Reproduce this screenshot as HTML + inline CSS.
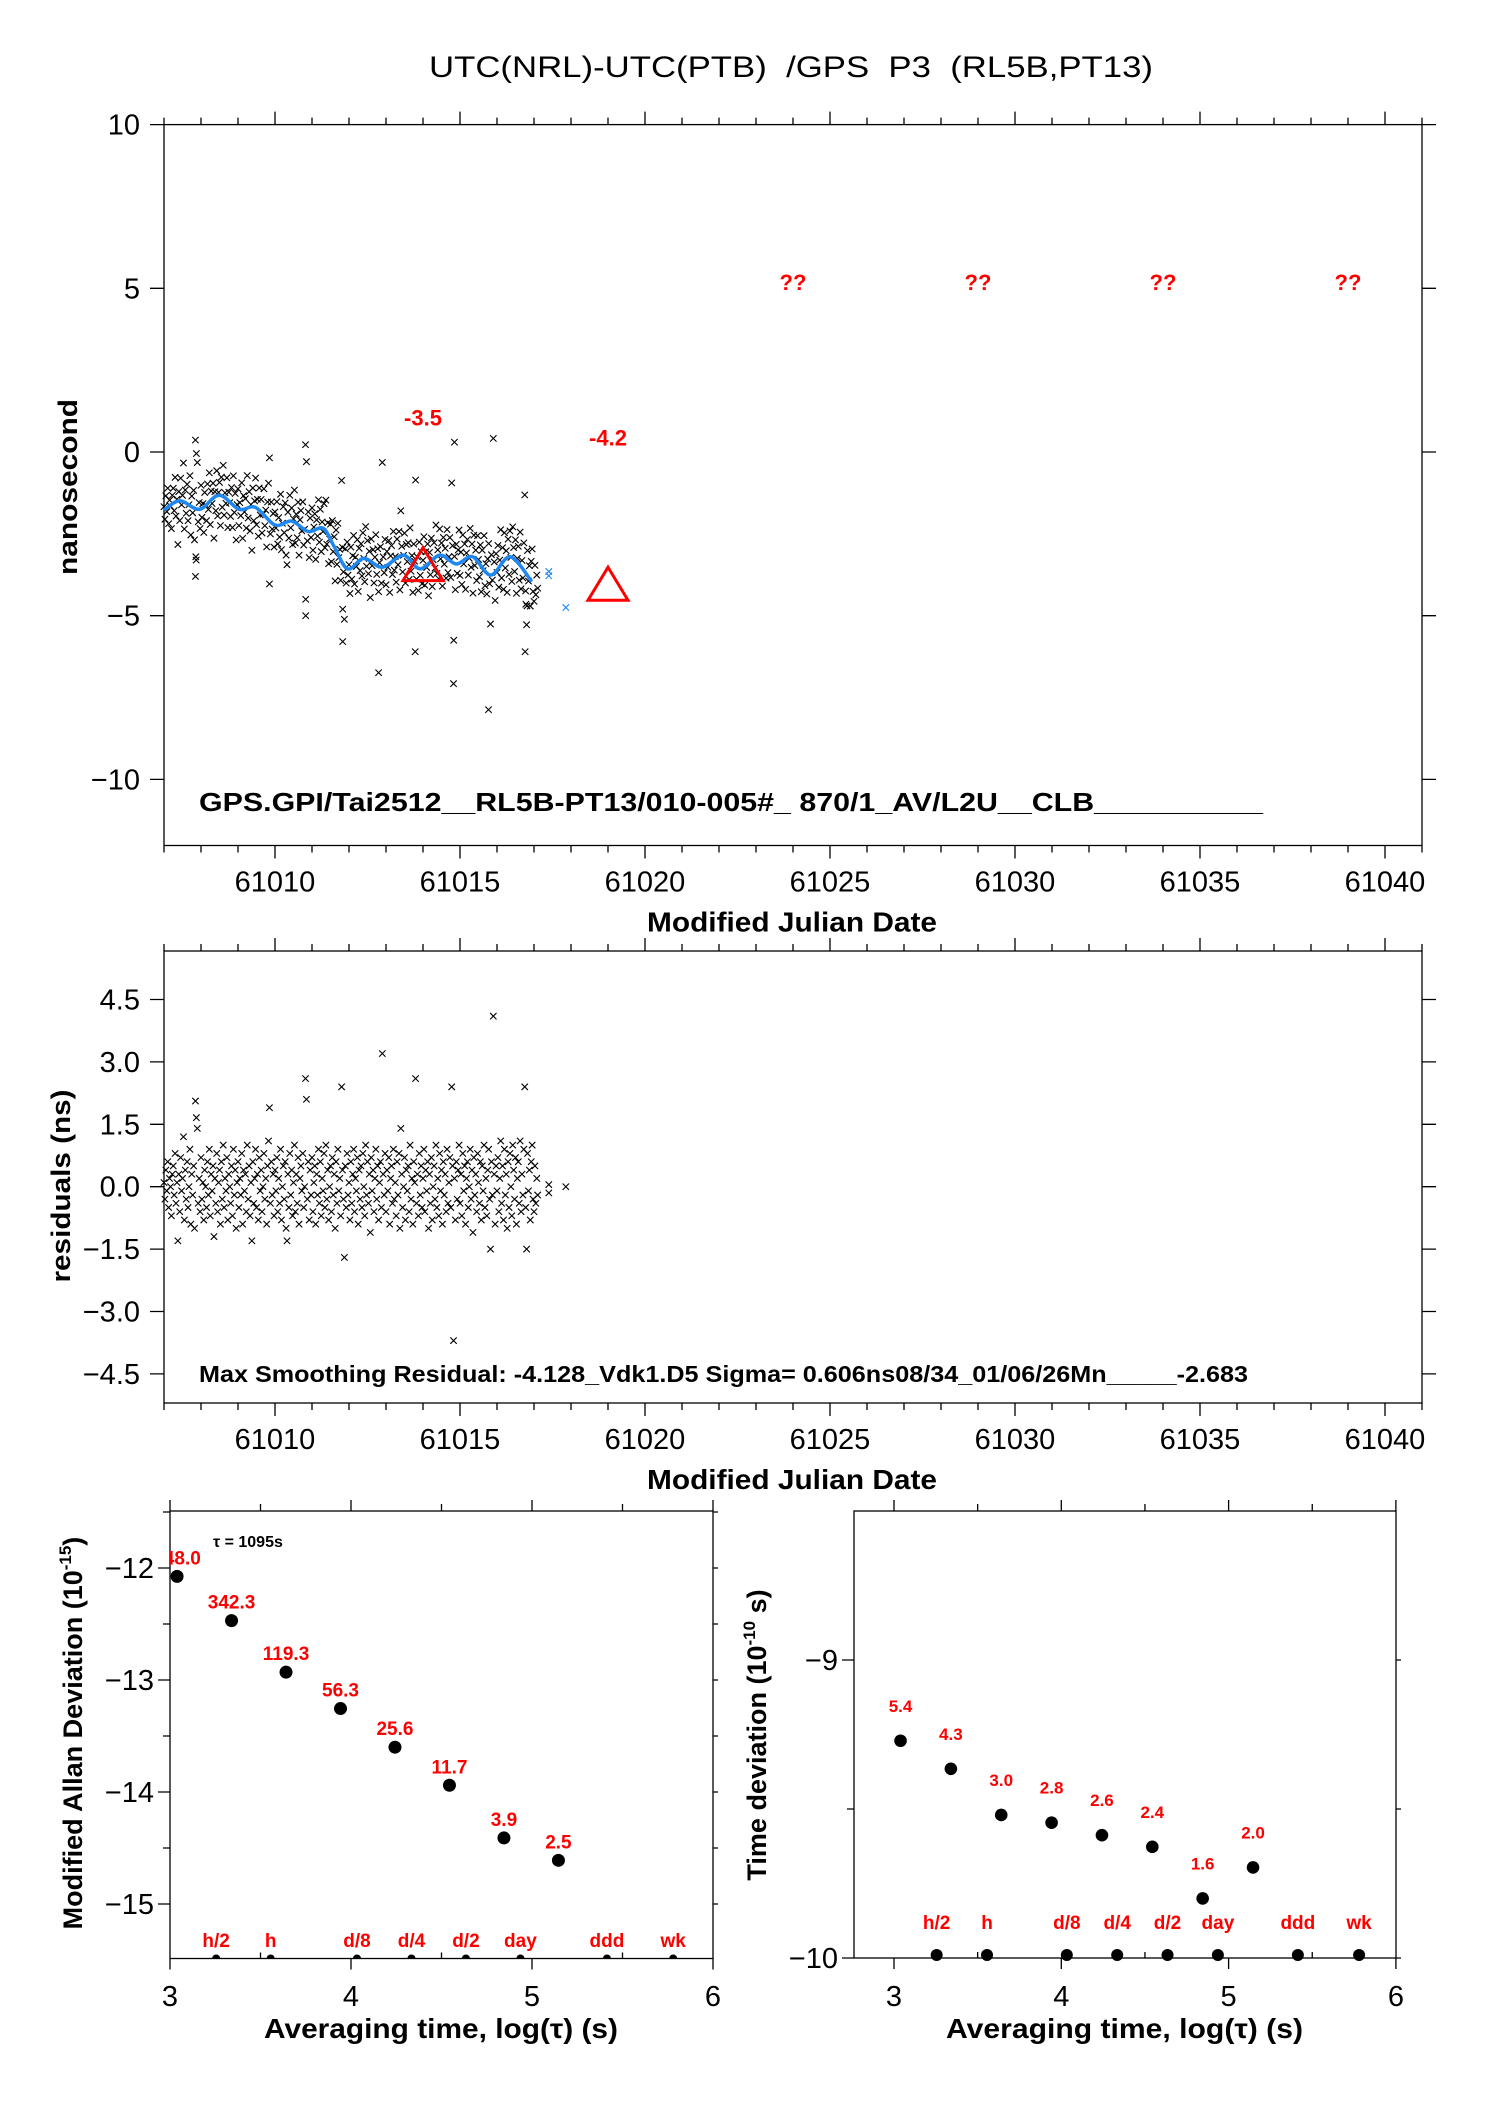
<!DOCTYPE html>
<html><head><meta charset="utf-8"><style>
html,body{margin:0;padding:0;background:#fff;}
svg{display:block;font-family:"Liberation Sans",sans-serif;}
</style></head><body>
<svg id="fig" width="1488" height="2105" viewBox="0 0 1488 2105" xmlns="http://www.w3.org/2000/svg">
<defs>
<clipPath id="clipA"><rect x="170" y="1511" width="543" height="448"/></clipPath>
</defs>
<rect x="0" y="0" width="1488" height="2105" fill="#fff"/>
<text x="429" y="77" font-size="30" textLength="724" lengthAdjust="spacingAndGlyphs" xml:space="preserve">UTC(NRL)-UTC(PTB)  /GPS  P3  (RL5B,PT13)</text>
<g id="gTop"></g>
<g id="gRes"></g>
<g id="gA"></g>
<g id="gD"></g>
</svg>
<script>
// ---- data ----
const resStart = 61007.0;
const resStep = 0.025;
const residuals = [
0.1,-0.3,0.4,-0.1,0.6,-0.5,0.2,0.0,-0.7,0.3,0.5,-0.2,0.8,-0.4,0.1,-1.3,0.3,-0.6,0.7,-0.1,
0.2,1.2,-0.8,0.4,-0.3,0.6,-0.5,0.0,0.9,-0.9,0.3,-0.2,0.5,-1.0,2.06,1.66,1.4,-0.4,0.2,-0.6,
0.7,-0.3,0.1,-0.8,0.4,0.0,-0.5,0.6,-0.2,0.9,-0.7,0.3,-0.1,0.5,-1.2,0.2,-0.4,0.8,-0.6,0.1,
0.4,-0.9,0.6,-0.3,1.0,-0.5,0.2,-0.1,0.7,-0.8,0.3,0.0,-0.4,0.5,-0.7,0.9,-0.2,0.4,-1.0,0.1,
0.6,-0.5,0.2,-0.2,0.8,-0.9,0.4,-0.1,0.3,-0.6,1.0,-0.3,0.5,-0.7,0.1,-1.3,0.6,-0.4,0.2,0.9,
-0.5,0.3,-0.8,0.7,-0.1,0.4,-0.6,0.0,0.8,-0.3,0.2,-0.9,0.5,1.1,1.9,-0.4,0.6,-0.2,0.3,-0.7,
0.4,-0.1,0.7,-0.6,0.2,-0.4,0.9,-0.8,0.0,0.5,-0.3,0.6,-1.0,-1.3,0.3,-0.5,0.8,-0.2,0.4,-0.7,
0.1,1.0,-0.6,0.3,-0.4,0.7,-0.9,0.2,0.5,-0.1,0.8,-0.5,0.0,2.6,2.1,-0.3,0.6,-0.8,0.4,-0.2,
0.7,-0.6,0.1,0.5,-0.9,0.3,-0.2,0.9,-0.4,0.6,-0.7,0.2,-0.1,0.8,-0.5,1.0,-0.3,0.4,-0.8,0.0,
0.5,-0.6,0.7,-0.2,0.3,-1.0,0.6,-0.4,0.9,-0.1,0.2,-0.7,2.4,0.4,-0.3,-1.7,0.5,-0.5,0.8,-0.2,
0.1,-0.8,0.6,-0.4,0.3,0.9,-0.6,0.2,-0.1,0.7,-0.9,0.4,-0.3,0.5,-0.5,0.8,0.0,-0.7,1.0,-0.2,
0.6,-0.4,0.3,-1.1,0.7,-0.1,0.4,-0.6,0.2,0.9,-0.3,0.5,-0.8,0.1,0.6,-0.5,3.2,0.3,-0.2,0.8,
-0.6,0.4,-0.1,0.7,-0.9,0.2,0.5,-0.4,0.9,-0.3,0.1,-0.7,0.6,-0.2,0.8,-1.0,1.4,0.3,-0.5,0.0,
0.7,-0.8,0.4,-0.1,0.5,-0.6,1.0,-0.3,0.2,-0.9,0.6,0.1,2.6,-0.4,0.3,-0.7,0.8,-0.2,0.5,-0.5,
0.2,0.9,-0.6,0.4,-0.1,0.6,-1.0,0.3,-0.4,0.7,-0.8,0.0,0.5,-0.3,1.0,-0.5,0.2,-0.7,0.8,-0.1,
0.4,-0.9,0.6,-0.2,0.3,-0.6,0.9,-0.4,0.1,0.7,-0.5,2.4,0.5,-3.7,0.2,-0.8,0.6,-0.3,0.4,1.0,
-0.4,0.3,-0.7,0.8,-0.1,0.5,-0.9,0.2,0.6,-0.5,0.0,0.9,-0.3,0.4,-1.1,0.7,-0.2,0.3,-0.6,0.8,
0.1,-0.4,0.6,-0.8,0.5,-0.1,1.0,-0.5,0.2,-0.7,0.4,0.9,-0.3,-1.5,0.6,-0.2,4.1,0.3,-0.9,0.5,
-0.1,0.7,-0.6,0.2,1.1,-0.4,0.5,-0.8,0.9,-0.2,0.3,-1.0,0.6,-0.5,0.8,0.0,-0.7,1.0,0.4,-0.3,
0.7,-0.9,0.2,0.6,-0.4,1.1,-0.6,0.3,-0.2,0.9,2.4,-0.5,-1.5,0.8,-0.1,0.4,-0.8,0.6,1.0,-0.3,
-0.6,0.5,-0.4,0.2,-0.2];
const smoothT = [61007.0,61007.43,61007.96,61008.49,61009.03,61009.47,61010.0,61010.45,61010.9,61011.3,61011.6,61011.96,61012.4,61012.9,61013.47,61013.92,61014.45,61014.9,61015.34,61015.83,61016.36,61016.94];
const smoothV = [-1.77,-1.49,-1.75,-1.32,-1.75,-1.69,-2.23,-2.11,-2.43,-2.33,-2.89,-3.57,-3.25,-3.52,-3.15,-3.57,-3.15,-3.42,-3.2,-3.76,-3.2,-3.96];
const topExtraT = [61014.85,61015.77,61012.8,61013.79,61016.76,61011.83,61014.83,61009.85,61010.83,61010.83,61007.85,61007.87,61007.86,61011.83,61016.81,61016.78];
const topExtraV = [0.3,-7.87,-6.74,-6.1,-6.1,-5.79,-5.75,-4.03,-5.0,-4.5,-3.8,-3.3,-3.2,-4.8,-4.7,-4.65];
const blueT = [61017.4,61017.4,61017.86];
const blueV = [-3.78,-3.65,-4.75];
const resExtraT = [61017.4,61017.4,61017.86];
const resExtraV = [0.05,-0.15,0.0];
const triT = [61014,61019];
const triV = [-3.5,-4.1];
const triLabels = ["-3.5","-4.2"];
const triLabelV = [1.05,0.45];
const qT = [61024,61029,61034,61039];
const logTau = [3.039,3.34,3.641,3.942,4.243,4.544,4.845,5.146];
const adev = [-12.075,-12.47,-12.93,-13.255,-13.6,-13.94,-14.41,-14.61];
const adevLabels = ["748.0","342.3","119.3","56.3","25.6","11.7","3.9","2.5"];
const tdev = [-9.271,-9.365,-9.52,-9.546,-9.588,-9.627,-9.8,-9.696];
const tdevLabels = ["5.4","4.3","3.0","2.8","2.6","2.4","1.6","2.0"];
const markT = [3.255,3.556,4.033,4.334,4.635,4.936,5.414,5.78];
const markLabels = ["h/2","h","d/8","d/4","d/2","day","ddd","wk"];
const mjdTicks = [61010,61015,61020,61025,61030,61035,61040];
const topYTicks = [10,5,0,-5,-10];
const resYTicks = [4.5,3.0,1.5,0.0,-1.5,-3.0,-4.5];
const logTicks = [3,4,5,6];
const adevYTicks = [-12,-13,-14,-15];
const tdevYTicks = [-9,-10];

// ---- scales ----
const xT = m => 164 + (m - 61007) * 37.0;
const yT = v => 452 - v * 32.74;
const yR = v => 1186.7 - v * 41.6;
const xA = l => 170 + (l - 3) * 181;
const yA = v => 1568 - (v + 12) * 112;
const xD = l => 894 + (l - 3) * 167.3;
const yD = v => 1958 - (v + 10) * 298;
const NS = "http://www.w3.org/2000/svg";
function mk(parent, tag, attrs, txt) {
  const e = document.createElementNS(NS, tag);
  for (const k in attrs) e.setAttribute(k, attrs[k]);
  if (txt !== undefined) e.textContent = txt;
  parent.appendChild(e);
  return e;
}
function fmt(v){ return (v<0?"\u2212":"") + Math.abs(v).toFixed(arguments[1]||0); }
function interp(t){
  if (t <= smoothT[0]) return smoothV[0];
  for (let i=1;i<smoothT.length;i++){
    if (t <= smoothT[i]) { const f=(t-smoothT[i-1])/(smoothT[i]-smoothT[i-1]); return smoothV[i-1]+f*(smoothV[i]-smoothV[i-1]); }
  }
  return smoothV[smoothV.length-1];
}
function cross(g, x, y, color, name){
  const p = mk(g, "path", {d:`M${x-3.2},${y-3.2}L${x+3.2},${y+3.2}M${x-3.2},${y+3.2}L${x+3.2},${y-3.2}`, stroke:color, "stroke-width":1.1, fill:"none"});
  
  
}
function mjdFrame(g, top, bottom, name){
  const r = mk(g, "rect", {x:164, y:top, width:1258, height:bottom-top, fill:"none", stroke:"#000", "stroke-width":1.3});
  
  
  for (let m=61007; m<=61041; m++){
    const major = (m % 5 === 0);
    const L = major ? 13 : 7;
    const x = xT(m);
    const tk = mk(g, "path", {d:`M${x},${bottom}L${x},${bottom+L}M${x},${top}L${x},${top-L}`, stroke:"#000", "stroke-width":1.3});
    
    
  }
  mjdTicks.forEach(m => {
    const t = mk(g, "text", {x:xT(m), y:bottom+46, "font-size":29, "text-anchor":"middle"}, String(m));
    
    
  });
  const xl = mk(g, "text", {x:647, y:bottom+86, "font-size":28, "font-weight":"bold", textLength:290, lengthAdjust:"spacingAndGlyphs"}, "Modified Julian Date");
  
  
}

// ---- top panel ----
const gT = document.getElementById("gTop");
mjdFrame(gT, 124.6, 845.5, "plot-frame");
topYTicks.forEach(v => {
  const y = yT(v);
  const tk = mk(gT, "path", {d:`M150,${y}L164,${y}M1422,${y}L1436,${y}`, stroke:"#000", "stroke-width":1.3});
  
  
  const t = mk(gT, "text", {x:140, y:y+10, "font-size":29, "text-anchor":"end"}, fmt(v));
  
  
});
const yl = mk(gT, "text", {x:0, y:0, "font-size":27, "font-weight":"bold", "text-anchor":"middle", transform:"translate(77,487) rotate(-90)", textLength:176, lengthAdjust:"spacingAndGlyphs"}, "nanosecond");


residuals.forEach((r,i) => {
  const t = resStart + i*resStep;
  cross(gT, xT(t), yT(interp(t)+r), "#000", "data-point");
});
topExtraT.forEach((t,i) => cross(gT, xT(t), yT(topExtraV[i]), "#000", "outlier-point"));
blueT.forEach((t,i) => cross(gT, xT(t), yT(blueV[i]), "#1e88f0", "extrapolated-point"));
let d = "";
for (let i=0;i<smoothT.length;i++){
  const p0 = [xT(smoothT[Math.max(0,i-1)]), yT(smoothV[Math.max(0,i-1)])];
  const p1 = [xT(smoothT[i]), yT(smoothV[i])];
  const p2 = [xT(smoothT[Math.min(smoothT.length-1,i+1)]), yT(smoothV[Math.min(smoothT.length-1,i+1)])];
  const p3 = [xT(smoothT[Math.min(smoothT.length-1,i+2)]), yT(smoothV[Math.min(smoothT.length-1,i+2)])];
  if (i===0) d += `M${p1[0]},${p1[1]}`;
  if (i < smoothT.length-1) {
    d += `C${p1[0]+(p2[0]-p0[0])/6},${p1[1]+(p2[1]-p0[1])/6} ${p2[0]-(p3[0]-p1[0])/6},${p2[1]-(p3[1]-p1[1])/6} ${p2[0]},${p2[1]}`;
  }
}
const sm = mk(gT, "path", {d:d, stroke:"#1e88f0", "stroke-width":3.5, fill:"none"});


triT.forEach((t,i) => {
  const x = xT(t), y = yT(triV[i]);
  const tr = mk(gT, "path", {d:`M${x},${y-19}L${x+20},${y+14}L${x-20},${y+14}Z`, stroke:"#ff0000", "stroke-width":3, fill:"none"});
  
  
  const lb = mk(gT, "text", {x:x, y:yT(triLabelV[i])+8, "font-size":22, "font-weight":"bold", fill:"#ff0000", "text-anchor":"middle"}, triLabels[i]);
  
  
});
qT.forEach(t => {
  const q = mk(gT, "text", {x:xT(t), y:yT(5.2)+8, "font-size":22, "font-weight":"bold", fill:"#ff0000", "text-anchor":"middle"}, "??");
  
  
});
const info = mk(gT, "text", {x:199, y:811, "font-size":26, "font-weight":"bold", textLength:1064, lengthAdjust:"spacingAndGlyphs", "xml:space":"preserve"}, "GPS.GPI/Tai2512__RL5B-PT13/010-005#_  870/1_AV/L2U__CLB__________");



// ---- residual panel ----
const gR = document.getElementById("gRes");
mjdFrame(gR, 951, 1403, "residual-frame");
resYTicks.forEach(v => {
  const y = yR(v);
  const tk = mk(gR, "path", {d:`M150,${y}L164,${y}M1422,${y}L1436,${y}`, stroke:"#000", "stroke-width":1.3});
  
  
  const t = mk(gR, "text", {x:140, y:y+10, "font-size":29, "text-anchor":"end"}, fmt(v,1));
  
  
});
const yl2 = mk(gR, "text", {x:0, y:0, "font-size":27, "font-weight":"bold", "text-anchor":"middle", transform:"translate(70,1186) rotate(-90)", textLength:193, lengthAdjust:"spacingAndGlyphs"}, "residuals (ns)");


residuals.forEach((r,i) => cross(gR, xT(resStart + i*resStep), yR(r), "#000", "residual-point"));
resExtraT.forEach((t,i) => cross(gR, xT(t), yR(resExtraV[i]), "#000", "residual-point"));
const info2 = mk(gR, "text", {x:199, y:1382, "font-size":23, "font-weight":"bold", textLength:1049, lengthAdjust:"spacingAndGlyphs", "xml:space":"preserve"}, "Max Smoothing Residual: -4.128_Vdk1.D5  Sigma= 0.606ns08/34_01/06/26Mn_____-2.683");



// ---- stability panels ----
function stabFrame(g, xs, ys, left, right, top, bottom, yTicks, yMinor, name){
  const r = mk(g, "rect", {x:left, y:top, width:right-left, height:bottom-top, fill:"none", stroke:"#000", "stroke-width":1.3});
  
  
  [3,3.5,4,4.5,5,5.5,6].forEach(l => {
    const major = Number.isInteger(l);
    const x = xs(l);
    const dd = major ? `M${x},${bottom}L${x},${bottom+11}M${x},${top}L${x},${top-11}` : `M${x},${bottom}L${x},${bottom-6}M${x},${top}L${x},${top-7}`;
    const tk = mk(g, "path", {d:dd, stroke:"#000", "stroke-width":1.3});
    
    
  });
  logTicks.forEach(l => {
    const t = mk(g, "text", {x:xs(l), y:2006, "font-size":29, "text-anchor":"middle"}, String(l));
    
    
  });
  yTicks.forEach(v => {
    const y = ys(v);
    const tk = mk(g, "path", {d:`M${left-12},${y}L${left},${y}M${right},${y}L${right+5},${y}`, stroke:"#000", "stroke-width":1.3});
    
    
    const t = mk(g, "text", {x:left-16, y:y+10, "font-size":29, "text-anchor":"end"}, fmt(v));
    
    
  });
  yMinor.forEach(v => {
    const y = ys(v);
    const tk = mk(g, "path", {d:`M${left-7},${y}L${left},${y}M${right},${y}L${right+5},${y}`, stroke:"#000", "stroke-width":1.3});
    
    
  });
}
const gA = document.getElementById("gA");
stabFrame(gA, xA, yA, 170, 713, 1511, 1958.5, adevYTicks, [-11.5,-12.5,-13.5,-14.5], "adev-frame");
const gAc = mk(gA, "g", {"clip-path":"url(#clipA)"});


logTau.forEach((l,i) => {
  const c = mk(gAc, "circle", {cx:xA(l), cy:yA(adev[i]), r:6.5, fill:"#000"});
  
  
  const t = mk(gAc, "text", {x:xA(l), y:yA(adev[i])-12, "font-size":19, "font-weight":"bold", fill:"#ff0000", "text-anchor":"middle"}, adevLabels[i]);
  
  
});
markT.forEach((l,i) => {
  const c = mk(gAc, "circle", {cx:xA(l), cy:1958.5, r:4, fill:"#000"});
  
  
  const t = mk(gAc, "text", {x:xA(l), y:1947, "font-size":19, "font-weight":"bold", fill:"#ff0000", "text-anchor":"middle"}, markLabels[i]);
  
  
});
const tau = mk(gA, "text", {x:213, y:1547, "font-size":16, "font-weight":"bold"}, "\u03c4 = 1095s");


const ylA = mk(gA, "text", {x:0, y:0, "font-size":27, "font-weight":"bold", "text-anchor":"middle", transform:"translate(82,1733) rotate(-90)"});


ylA.innerHTML = 'Modified Allan Deviation (10<tspan font-size="17" dy="-11">-15</tspan><tspan dy="11">)</tspan>';
const xlA = mk(gA, "text", {x:264, y:2038, "font-size":28, "font-weight":"bold", textLength:354, lengthAdjust:"spacingAndGlyphs"}, "Averaging time, log(\u03c4) (s)");



const gD = document.getElementById("gD");
stabFrame(gD, xD, yD, 854, 1396, 1511, 1958, tdevYTicks, [-9.5], "tdev-frame");
logTau.forEach((l,i) => {
  const c = mk(gD, "circle", {cx:xD(l), cy:yD(tdev[i]), r:6.3, fill:"#000"});
  
  
  const t = mk(gD, "text", {x:xD(l), y:yD(tdev[i])-29, "font-size":17, "font-weight":"bold", fill:"#ff0000", "text-anchor":"middle"}, tdevLabels[i]);
  
  
});
markT.forEach((l,i) => {
  const c = mk(gD, "circle", {cx:xD(l), cy:1955, r:6, fill:"#000"});
  
  
  const t = mk(gD, "text", {x:xD(l), y:1929, "font-size":19, "font-weight":"bold", fill:"#ff0000", "text-anchor":"middle"}, markLabels[i]);
  
  
});
const ylD = mk(gD, "text", {x:0, y:0, "font-size":27, "font-weight":"bold", "text-anchor":"middle", transform:"translate(766,1735) rotate(-90)"});


ylD.innerHTML = 'Time deviation (10<tspan font-size="17" dy="-11">-10</tspan><tspan dy="11"> s)</tspan>';
const xlD = mk(gD, "text", {x:946, y:2038, "font-size":28, "font-weight":"bold", textLength:357, lengthAdjust:"spacingAndGlyphs"}, "Averaging time, log(\u03c4) (s)");


</script>
</body></html>
